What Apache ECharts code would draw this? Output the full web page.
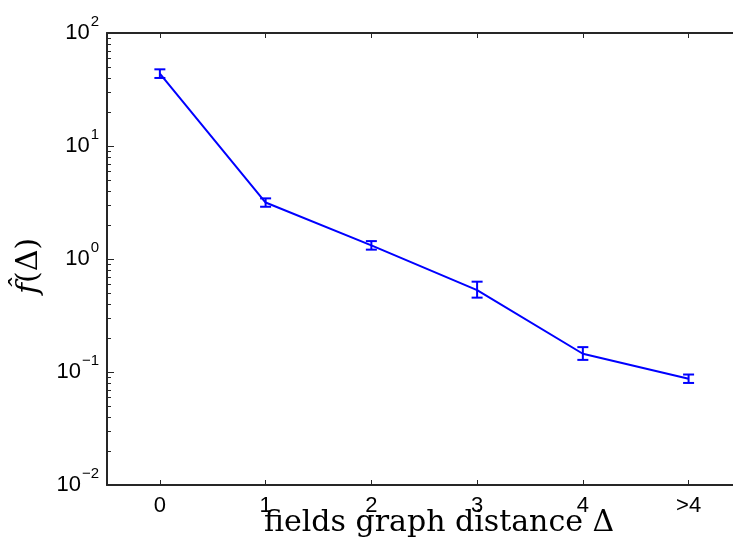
<!DOCTYPE html>
<html>
<head>
<meta charset="utf-8">
<script src="https://cdn.jsdelivr.net/npm/echarts@6/dist/echarts.min.js"></script>
<style>
  html, body { margin: 0; padding: 0; background: #fff; }
  #chart { width: 733px; height: 547px; }
</style>
</head>
<body>
<div id="chart"></div>
<script>
// graph distance categories
var categories = ['0', '1', '2', '3', '4', '>4'];
// f(Delta) mean values
var fValues = [43.8, 3.16, 1.32, 0.53, 0.145, 0.087];
// error bar bounds
var errLow = [40.0, 2.90, 1.21, 0.455, 0.128, 0.080];
var errHigh = [47.7, 3.44, 1.44, 0.63, 0.166, 0.095];
// y tick exponents
var yTickExp = ['-2', '-1', '0', '1', '2'];

var axisColor = '#262626';
var blue = '#0000ff';

var catIdx = categories.map(function (c, i) { return i; });
var lineData = categories.map(function (c, i) { return [i, fValues[i]]; });
var errData = categories.map(function (c, i) { return [i, errLow[i], errHigh[i]]; });

// minor ticks of the log axis (2..9 x 10^k)
var minorVals = [];
for (var k = -2; k < 2; k++) {
  for (var m = 2; m <= 9; m++) minorVals.push(m * Math.pow(10, k));
}

var chart = echarts.init(document.getElementById('chart'));

function xAxisDef(pos, showLabel) {
  return {
    type: 'value',
    min: -0.5,
    max: 5.42,
    position: pos,
    axisLine: { show: true, onZero: false, lineStyle: { color: axisColor, width: 2 } },
    axisTick: { show: true, inside: true, length: 5, customValues: catIdx, lineStyle: { color: axisColor } },
    axisLabel: {
      show: showLabel,
      customValues: catIdx,
      color: '#000', fontFamily: 'Liberation Sans', fontSize: 22, margin: 10,
      formatter: function (v) { return categories[Math.round(v)]; }
    },
    splitLine: { show: false }
  };
}

var option = {
  animation: false,
  backgroundColor: '#fff',
  grid: { left: 107, top: 33, right: 0, height: 452, containLabel: false },
  xAxis: [xAxisDef('bottom', true), xAxisDef('top', false)],
  yAxis: {
    type: 'log',
    logBase: 10,
    min: 0.01,
    max: 100,
    axisLine: { show: true, onZero: false, lineStyle: { color: axisColor, width: 2 } },
    axisTick: { show: true, inside: true, length: 7, lineStyle: { color: axisColor } },
    splitLine: { show: false },
    axisLabel: {
      margin: 8,
      formatter: function (v) {
        var e = Math.round(Math.log10(v));
        var s = yTickExp[e + 2] || String(e);
        return '{b|10}{s|' + s.replace('-', '\u2212') + '}';
      },
      rich: {
        b: { fontFamily: 'Liberation Sans', fontSize: 22, color: '#000', verticalAlign: 'middle', lineHeight: 38, padding: [0, 1, 0, 0] },
        s: { fontFamily: 'Liberation Sans', fontSize: 15, color: '#000', verticalAlign: 'top', lineHeight: 15 }
      }
    }
  },
  graphic: [{
    type: 'text',
    left: 264,
    top: 508,
    style: { text: 'fields graph distance \u0394', font: '30px "DejaVu Serif"', fill: '#000' }
  }, {
    type: 'text',
    x: 14,
    y: 294,
    rotation: Math.PI / 2,
    style: {
      text: '{i|f\u0302}{n|(\u0394)}',
      rich: {
        i: { font: 'italic 30px "DejaVu Serif"', fill: '#000' },
        n: { font: '30px "DejaVu Serif"', fill: '#000' }
      }
    }
  }],
  series: [{
    type: 'line',
    data: lineData,
    showSymbol: false,
    symbol: 'none',
    lineStyle: { color: blue, width: 2 },
    z: 3
  }, {
    type: 'custom',
    data: errData,
    z: 4,
    renderItem: function (params, api) {
      var lo = api.coord([api.value(0), api.value(1)]);
      var hi = api.coord([api.value(0), api.value(2)]);
      var x = lo[0], w = 5.5;
      var st = { stroke: blue, lineWidth: 2 };
      return {
        type: 'group',
        children: [
          { type: 'line', shape: { x1: x, y1: lo[1], x2: x, y2: hi[1] }, style: st },
          { type: 'line', shape: { x1: x - w, y1: lo[1], x2: x + w, y2: lo[1] }, style: st },
          { type: 'line', shape: { x1: x - w, y1: hi[1], x2: x + w, y2: hi[1] }, style: st }
        ]
      };
    }
  }, {
    type: 'custom',
    data: minorVals.map(function (v) { return [0, v]; }),
    silent: true,
    clip: false,
    renderItem: function (params, api) {
      var p = api.coord([0, api.value(1)]);
      var x0 = params.coordSys.x;
      return {
        type: 'line',
        shape: { x1: x0, y1: Math.round(p[1]) + 0.5, x2: x0 + 4, y2: Math.round(p[1]) + 0.5 },
        style: { stroke: axisColor, lineWidth: 1 }
      };
    }
  }]
};

chart.setOption(option);
</script>
</body>
</html>
